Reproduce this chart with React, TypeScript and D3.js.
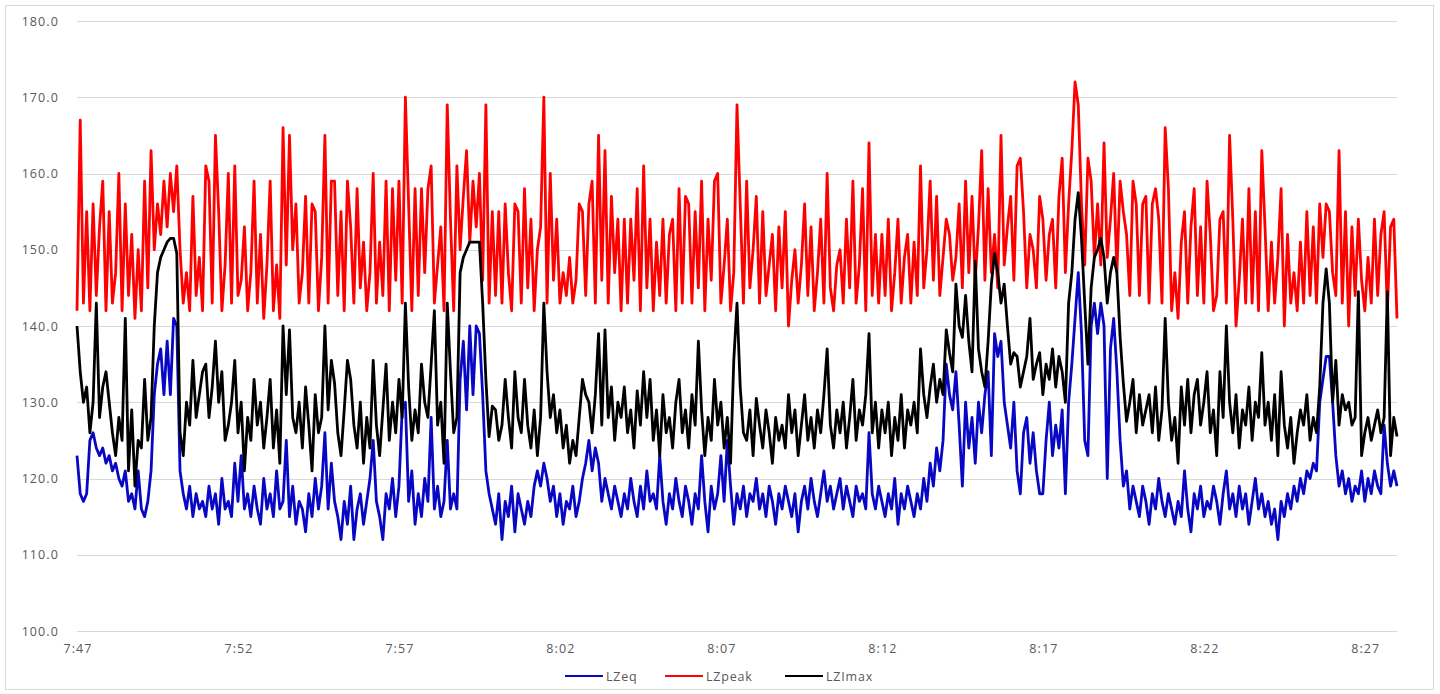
import React, { useRef, useEffect } from 'react';
import * as d3 from 'd3';

// one reading every 6 s, starting 7:47:00 (10 readings per minute row)
const stepSeconds = 6;
const xTickLabels = ['7:47', '7:52', '7:57', '8:02', '8:07', '8:12', '8:17', '8:22', '8:27'];
const yTicks = [100, 110, 120, 130, 140, 150, 160, 170, 180];
const seriesNames = ['LZeq', 'LZpeak', 'LZImax'];
const seriesColors = ['#0808c4', '#ff0000', '#000000'];

const lzeq = [
  123, 118, 117, 118, 125, 126, 124, 123, 124, 122,
  123, 121, 122, 120, 119, 121, 117, 118, 116, 121,
  116, 115, 117, 121, 131, 135, 137, 131, 138, 131,
  141, 140, 121, 118, 116, 119, 115, 118, 116, 117,
  115, 119, 116, 118, 114, 120, 116, 117, 115, 122,
  117, 123, 116, 118, 115, 119, 116, 114, 120, 116,
  118, 115, 121, 116, 117, 125, 115, 119, 114, 117,
  116, 113, 118, 115, 120, 116, 119, 126, 116, 122,
  117, 115, 112, 117, 114, 119, 112, 116, 118, 114,
  117, 120, 125, 117, 115, 112, 118, 116, 120, 115,
  119, 129, 130, 117, 121, 114, 118, 115, 120, 117,
  128, 116, 119, 115, 117, 125, 116, 118, 116, 133,
  138, 129, 140, 131, 140, 139, 131, 121, 118, 116,
  114, 118, 112, 117, 115, 119, 113, 118, 116, 114,
  117, 115, 119, 121, 119, 122, 120, 117, 119, 115,
  118, 114, 117, 116, 119, 115, 117, 120, 122, 125,
  121, 124, 122, 117, 120, 118, 116, 119, 117, 115,
  118, 116, 120, 117, 115, 119, 116, 121, 117, 118,
  116, 123, 117, 114, 118, 116, 120, 117, 115, 119,
  117, 114, 118, 116, 123, 117, 113, 119, 116, 118,
  123, 117, 125, 119, 114, 118, 116, 119, 115, 118,
  117, 120, 116, 118, 115, 119, 117, 114, 118, 116,
  119, 117, 115, 118, 113, 117, 119, 116, 120, 117,
  115, 118, 121, 117, 119, 116, 118, 120, 116, 119,
  117, 115, 119, 117, 118, 116, 126, 118, 116, 119,
  117, 115, 118, 116, 120, 114, 118, 116, 119, 117,
  115, 118, 116, 120, 117, 122, 119, 124, 121, 125,
  135, 131, 129, 134, 127, 119, 130, 124, 128, 122,
  130, 126, 131, 134, 123, 139, 136, 138, 130, 127,
  124, 130, 121, 118, 126, 128, 122, 126, 121, 118,
  118, 125, 130, 123, 127, 124, 129, 118, 130, 135,
  141, 147, 139, 125, 123, 140, 143, 139, 143, 140,
  120, 137, 141, 134, 125, 119, 121, 116, 119, 117,
  115, 119, 117, 114, 118, 116, 120, 117, 115, 118,
  116, 114, 117, 115, 121, 116, 113, 118, 116, 119,
  115, 117, 116, 119, 117, 114, 118, 121, 116, 118,
  115, 119, 116, 118, 114, 117, 120, 116, 118, 115,
  117, 114, 116, 112, 117, 115, 118, 116, 119, 117,
  120, 118, 121, 120, 122, 121, 130, 133, 136, 136,
  130, 123, 119, 121, 118, 120, 117, 119, 118, 121,
  117, 120, 118, 121, 119, 118, 127, 122, 119, 121,
  119,
];

const lzpeak = [
  142, 167, 143, 155, 142, 156, 144, 153, 159, 142,
  155, 143, 147, 160, 142, 156, 144, 152, 141, 150,
  142, 159, 145, 163, 150, 156, 152, 159, 153, 160,
  155, 161, 150, 143, 147, 142, 157, 144, 149, 142,
  161, 159, 143, 165, 155, 142, 148, 160, 143, 161,
  144, 146, 153, 142, 147, 159, 143, 152, 141, 148,
  159, 142, 148, 141, 166, 148, 165, 150, 156, 143,
  147, 157, 143, 156, 155, 142, 149, 165, 143, 159,
  159, 144, 155, 142, 159, 153, 143, 158, 145, 151,
  142, 147, 160, 143, 151, 144, 159, 142, 158, 146,
  159, 143, 170, 156, 142, 158, 144, 158, 147, 158,
  161, 143, 148, 153, 142, 169, 154, 142, 161, 150,
  157, 163, 151, 159, 153, 160, 146, 169, 143, 155,
  144, 155, 143, 156, 147, 142, 156, 155, 143, 158,
  145, 154, 142, 150, 153, 170, 143, 160, 146, 154,
  143, 147, 144, 149, 143, 146, 156, 155, 144, 156,
  159, 143, 165, 146, 163, 143, 157, 147, 154, 142,
  154, 143, 154, 146, 158, 142, 161, 145, 154, 142,
  151, 144, 154, 143, 152, 154, 142, 158, 143, 157,
  156, 143, 155, 145, 159, 142, 154, 146, 159, 160,
  143, 148, 154, 142, 147, 169, 156, 143, 159, 145,
  150, 157, 143, 155, 144, 148, 152, 142, 153, 145,
  155, 140, 146, 150, 143, 148, 156, 144, 153, 142,
  147, 154, 143, 160, 145, 142, 148, 150, 143, 154,
  145, 159, 143, 148, 158, 142, 164, 144, 152, 143,
  152, 144, 154, 142, 147, 154, 143, 149, 152, 143,
  151, 144, 161, 145, 150, 159, 146, 157, 144, 149,
  154, 152, 146, 149, 156, 145, 159, 147, 157, 146,
  153, 163, 146, 158, 147, 152, 145, 165, 148, 153,
  157, 146, 161, 162, 155, 145, 152, 150, 145, 157,
  154, 146, 152, 154, 145, 157, 162, 147, 156, 163,
  172, 169, 156, 148, 162, 159, 149, 156, 148, 164,
  149, 154, 160, 147, 159, 155, 152, 144, 159, 156,
  144, 156, 157, 143, 156, 158, 154, 143, 166, 158,
  142, 147, 141, 151, 155, 143, 153, 158, 144, 153,
  143, 159, 152, 142, 144, 154, 155, 143, 165, 154,
  140, 146, 154, 143, 158, 143, 155, 142, 163, 153,
  142, 151, 143, 149, 158, 140, 152, 143, 147, 142,
  151, 143, 155, 144, 153, 143, 156, 149, 156, 155,
  147, 144, 163, 143, 155, 140, 153, 144, 154, 146,
  142, 149, 143, 154, 144, 152, 155, 142, 153, 154,
  141,
];

const lzimax = [
  140, 134, 130, 132, 126, 130, 143, 128, 132, 134,
  130, 126, 123, 128, 125, 141, 121, 129, 119, 125,
  124, 133, 125, 128, 140, 147, 149, 150, 151, 151.5,
  151.5, 149.5, 126, 123, 130, 127, 135.5, 128, 131, 134,
  135, 128, 132, 138, 130, 134, 125, 127, 130, 135.5,
  126, 130, 121, 128, 125, 133, 127, 130, 124, 128,
  133, 124, 129, 122, 140, 131, 139.5, 128, 126, 130,
  124, 132, 127, 121, 131, 126, 128, 140, 129, 135.5,
  132.5, 126, 123, 129, 135.5, 133, 127, 124, 130, 122,
  128, 124, 135.5, 127, 123, 129, 135, 125, 130, 126,
  133, 128, 143, 132, 125, 129, 126, 135, 130, 128,
  135, 142, 127, 130, 122, 143, 134, 126, 128, 147,
  149, 150, 151, 151, 151, 151, 143, 133, 125.5, 129.5,
  129, 125, 127, 133, 128, 124, 134, 128, 126, 133,
  127, 124, 129, 123, 128, 143, 134, 128, 131, 126,
  129, 124, 127, 122, 125, 123, 128, 133, 131, 130,
  126, 131, 139, 127, 139.5, 128, 132, 125, 130, 128,
  132, 126, 129, 124, 131.5, 127, 134, 128, 133, 125,
  129, 123, 131, 126, 128, 124, 130, 133, 126, 129,
  124, 131, 127, 138, 129, 123, 128, 125, 133, 127,
  130, 124, 128, 122, 135.5, 143, 132, 126, 125, 129,
  123, 130.5, 127, 124, 129, 126, 122, 128, 125, 127,
  124, 131, 126, 129, 123, 127, 131, 125, 128, 124,
  129, 126, 131, 137, 127, 124, 129, 126, 130, 124,
  128, 133, 125, 129, 127, 131, 139, 126, 130, 124,
  129, 126, 130, 123, 128, 125, 131, 124, 129, 127,
  130, 126, 137, 131, 128, 132, 135, 130, 133, 131,
  139.5, 136.5, 134, 145.5, 140, 138.5, 144, 138, 134, 148.5,
  137, 134, 132, 138, 145.5, 149.5, 147, 143, 145.5, 140,
  135, 136.5, 136, 132, 134, 136, 141, 133, 135, 136.5,
  131, 135, 133, 137, 132, 136, 134, 130, 143, 147,
  154, 157.5, 151.5, 143, 135, 145, 149, 150, 151.5, 149,
  143, 147, 149, 147, 138.5, 132.5, 127.5, 130, 133, 126,
  131, 127, 129, 131, 126, 132, 125, 129, 141, 130,
  125, 128, 122, 132, 127, 133, 126, 131, 133, 127,
  130, 134, 126, 129, 123, 134, 128, 140, 130, 126,
  131, 124, 129, 127, 132, 125, 130, 128, 136.5, 127,
  130, 125, 131, 123, 134, 127, 124, 128, 122, 126,
  129, 127, 131, 125, 128, 126, 132, 143, 147.5, 143,
  130, 135.5, 127, 131, 129, 130, 127, 128, 144.5, 123,
  126, 128, 125, 127, 129, 126, 128, 144.5, 123, 128,
  125.5,
];

const App = () => {
  const svgRef = useRef<SVGSVGElement>(null);

  useEffect(() => {
    const svg = d3.select(svgRef.current);
    svg.selectAll('*').remove();

    const width = 1440;
    const height = 694;
    const margin = { top: 21, right: 43, bottom: 63, left: 77 };
    const fontFamily = '"Open Sans", "Liberation Sans", sans-serif';
    const labelColor = '#595959';
    const gridColor = '#d9d9d9';

    const seriesData = [lzeq, lzpeak, lzimax];
    const n = lzeq.length;

    const xScale = d3.scaleLinear()
      .domain([0, (n - 1) * stepSeconds])
      .range([margin.left, width - margin.right]);

    const yScale = d3.scaleLinear()
      .domain([100, 180])
      .range([height - margin.bottom, margin.top]);

    svg.append('rect')
      .attr('width', width)
      .attr('height', height)
      .attr('fill', '#ffffff');

    // chart border
    svg.append('rect')
      .attr('x', 5.5)
      .attr('y', 5.5)
      .attr('width', 1428)
      .attr('height', 684)
      .attr('fill', 'none')
      .attr('stroke', gridColor);

    // horizontal gridlines
    svg.append('g')
      .selectAll('line')
      .data(yTicks)
      .join('line')
      .attr('x1', margin.left)
      .attr('x2', width - margin.right)
      .attr('y1', d => Math.round(yScale(d)) + 0.5)
      .attr('y2', d => Math.round(yScale(d)) + 0.5)
      .attr('stroke', gridColor)
      .attr('stroke-width', 1);

    // y labels
    svg.append('g')
      .selectAll('text')
      .data(yTicks)
      .join('text')
      .attr('x', 59)
      .attr('y', d => yScale(d) + 4.5)
      .attr('text-anchor', 'end')
      .attr('font-family', fontFamily)
      .attr('font-size', 12.5)
      .attr('letter-spacing', 1.1)
      .attr('fill', labelColor)
      .text(d => d.toFixed(1));

    // x labels, one every 5 minutes
    svg.append('g')
      .selectAll('text')
      .data(xTickLabels)
      .join('text')
      .attr('x', (d, k) => xScale(k * 300) + 1)
      .attr('y', height - margin.bottom + 22)
      .attr('text-anchor', 'middle')
      .attr('font-family', fontFamily)
      .attr('font-size', 12.5)
      .attr('letter-spacing', 1.1)
      .attr('fill', labelColor)
      .text(d => d);

    const line = d3.line<number>()
      .x((d, i) => xScale(i * stepSeconds))
      .y(d => yScale(d));

    // lines, drawn in legend order so LZImax sits on top
    svg.append('g')
      .selectAll('path')
      .data(seriesData)
      .join('path')
      .attr('d', d => line(d))
      .attr('fill', 'none')
      .attr('stroke', (d, k) => seriesColors[k])
      .attr('stroke-width', 2.8)
      .attr('stroke-linejoin', 'round');

    // legend
    const legendX = [565, 665, 785];
    const legend = svg.append('g')
      .selectAll('g')
      .data(seriesNames)
      .join('g')
      .attr('transform', (d, k) => `translate(${legendX[k]},676)`);

    legend.append('line')
      .attr('x1', 0)
      .attr('x2', 38)
      .attr('y1', 0)
      .attr('y2', 0)
      .attr('stroke', (d, k) => seriesColors[k])
      .attr('stroke-width', 2.2);

    legend.append('text')
      .attr('x', 41)
      .attr('y', 4.5)
      .attr('font-family', fontFamily)
      .attr('font-size', 12.5)
      .attr('letter-spacing', 0.8)
      .attr('fill', labelColor)
      .text(d => d);
  }, []);

  return (
    <div style={{ position: 'absolute', left: 0, top: 0 }}>
      <svg ref={svgRef} width={1440} height={694} style={{ display: 'block' }} />
    </div>
  );
};

export default App;
